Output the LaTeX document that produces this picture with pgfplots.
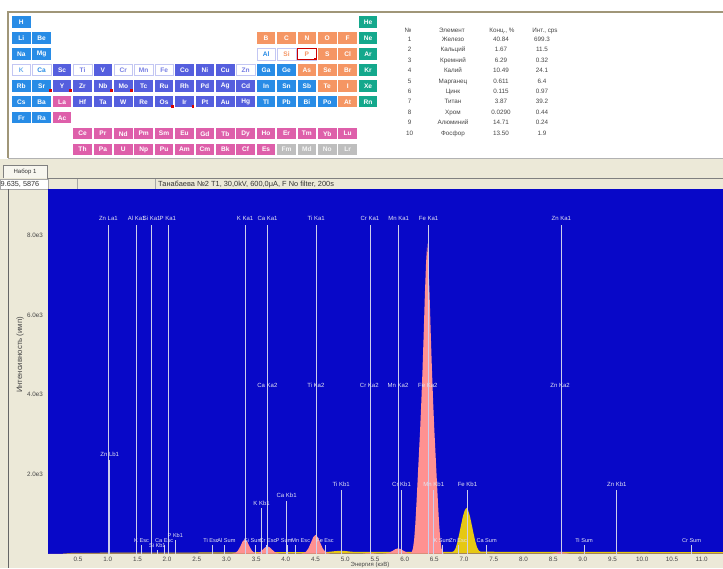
\documentclass[border=0pt]{standalone}
\usepackage{pgfplots}
\pgfplotsset{compat=1.18}
\usepackage{fontspec}
\setmainfont{Liberation Sans}
\definecolor{uibg}{RGB}{236,233,216}
\definecolor{specblue}{RGB}{8,8,200}
\definecolor{pk}{RGB}{255,145,145}
\definecolor{yl}{RGB}{230,200,20}
\definecolor{lnc}{RGB}{205,205,235}
\definecolor{labc}{RGB}{230,230,242}
\definecolor{eb}{RGB}{40,140,230}
\definecolor{tm}{RGB}{85,95,222}
\definecolor{nm}{RGB}{245,150,100}
\definecolor{ng}{RGB}{20,168,140}
\definecolor{lnt}{RGB}{222,95,170}
\definecolor{gre}{RGB}{190,190,190}
\definecolor{tx}{RGB}{70,70,70}
\definecolor{frame}{RGB}{160,150,120}
\newcommand{\fs}[1]{\fontsize{#1}{#1}\selectfont}
\tikzset{lab/.style={font=\fs{6},text=labc,inner sep=0.3pt},
         slab/.style={font=\fs{5.6},text=labc,inner sep=0.2pt}}
\newcommand{\pel}[5]{%
  \fill[#4] ({12+(#2-1)*20.4},{16.5+(#3-1)*15.9}) rectangle ++(18.6,11.5);
  \node[font=\fs{6.6}\bfseries,text=#5,inner sep=0pt] at ({12+(#2-1)*20.4+9.3},{16.5+(#3-1)*15.9+5.9}) {#1};}
\newcommand{\pelw}[3]{%
  \filldraw[fill=white,draw=#3!35,line width=0.4pt] ({12+(#1-1)*20.4},{16.5+(#2-1)*15.9}) rectangle ++(18.6,11.5);}
\newcommand{\rdot}[2]{\fill[red!85!black] ({12+(#1-1)*20.4+16.3},{16.5+(#2-1)*15.9+9.3}) rectangle ++(2.8,2.8);}
\newcommand{\lb}[3]{\node[lab] at (axis cs:#1,#2) {#3};}
\newcommand{\slb}[3]{\node[slab] at (axis cs:#1,#2) {#3};}
\begin{document}
\begin{tikzpicture}
\path[use as bounding box] (0,0) rectangle (723pt,568pt);
\begin{scope}[x=1pt,y=-1pt,yshift=568pt]
  \fill[uibg] (0,0) rectangle (723,568);
  \fill[white] (0,0) rectangle (723,159);
  \draw[frame,line width=1.2pt] (8,158) -- (8,12) -- (723,12);
  \draw[gray!60] (8,158) -- (723,158);
  % periodic table
  \foreach \s/\c/\r in {H/1/1,Li/1/2,Be/2/2,Na/1/3,Mg/2/3,Rb/1/5,Sr/2/5,Cs/1/6,Ba/2/6,Fr/1/7,Ra/2/7,Ga/13/4,Ge/14/4,In/13/5,Sn/14/5,Sb/15/5,Tl/13/6,Pb/14/6,Bi/15/6,Po/16/6}{\pel{\s}{\c}{\r}{eb}{white}}
  \foreach \s/\c/\r in {Sc/3/4,V/5/4,Co/9/4,Ni/10/4,Cu/11/4,Y/3/5,Zr/4/5,Nb/5/5,Mo/6/5,Tc/7/5,Ru/8/5,Rh/9/5,Pd/10/5,Ag/11/5,Cd/12/5,Hf/4/6,Ta/5/6,W/6/6,Re/7/6,Os/8/6,Ir/9/6,Pt/10/6,Au/11/6,Hg/12/6}{\pel{\s}{\c}{\r}{tm}{white}}
  \foreach \s/\c/\r in {B/13/2,C/14/2,N/15/2,O/16/2,F/17/2,S/16/3,Cl/17/3,As/15/4,Se/16/4,Br/17/4,Te/16/5,I/17/5,At/17/6}{\pel{\s}{\c}{\r}{nm}{white}}
  \foreach \s/\c/\r in {He/18/1,Ne/18/2,Ar/18/3,Kr/18/4,Xe/18/5,Rn/18/6}{\pel{\s}{\c}{\r}{ng}{white}}
  \foreach \s/\c/\r in {La/3/6,Ac/3/7,Ce/4/8,Pr/5/8,Nd/6/8,Pm/7/8,Sm/8/8,Eu/9/8,Gd/10/8,Tb/11/8,Dy/12/8,Ho/13/8,Er/14/8,Tm/15/8,Yb/16/8,Lu/17/8,Th/4/9,Pa/5/9,U/6/9,Np/7/9,Pu/8/9,Am/9/9,Cm/10/9,Bk/11/9,Cf/12/9,Es/13/9}{\pel{\s}{\c}{\r}{lnt}{white}}
  \foreach \s/\c/\r in {Fm/14/9,Md/15/9,No/16/9,Lr/17/9}{\pel{\s}{\c}{\r}{gre}{white!92!gray}}
  \foreach \s/\c/\r/\t in {K/1/4/eb!70,Ca/2/4/eb,Ti/4/4/tm!80,Cr/6/4/tm!80,Mn/7/4/tm!80,Fe/8/4/tm!80,Zn/12/4/tm!80,Al/13/3/eb,Si/14/3/nm,P/15/3/nm}{%
    \pelw{\c}{\r}{tm}
    \node[font=\fs{6.6}\bfseries,text=\t,inner sep=0pt] at ({12+(\c-1)*20.4+9.3},{16.5+(\r-1)*15.9+5.9}) {\s};}
  \draw[red!80!black,line width=0.8pt] ({12+14*20.4},{16.5+2*15.9}) rectangle ++(18.6,11.5);
  \rdot{2}{5}\rdot{3}{5}\rdot{5}{5}\rdot{6}{5}\rdot{8}{6}\rdot{9}{6}\rdot{15}{3}
  % results table
  \begin{scope}[every node/.style={font=\fs{6.3},text=tx,inner sep=0pt,anchor=base}]
    \node at (408,32.2) {№};
    \node at (452,32.2) {Элемент};
    \node at (502,32.2) {Конц., \%};
    \node at (545,32.2) {Инт., cps};
    \foreach \n/\e/\c/\i [count=\k] in {1/Железо/40.84/699.3,2/Кальций/1.67/11.5,3/Кремний/6.29/0.32,4/Калий/10.49/24.1,5/Марганец/0.611/6.4,6/Цинк/0.115/0.97,7/Титан/3.87/39.2,8/Хром/0.0290/0.44,9/Алюминий/14.71/0.24,10/Фосфор/13.50/1.9}{%
      \node at (409.5,{41.6+10.4*(\k-1)}) {\n};
      \node at (453,{41.6+10.4*(\k-1)}) {\e};
      \node at (501,{41.6+10.4*(\k-1)}) {\c};
      \node at (542,{41.6+10.4*(\k-1)}) {\i};}
  \end{scope}
  % tab and status bar
  \filldraw[fill=uibg!40!white,draw=gray] (3,178) -- (3,165) -- (47,165) -- (47,178);
  \node[font=\fs{6},text=black!80] at (25,171.5) {Набор 1};
  \draw[gray] (47,178) -- (723,178);
  \filldraw[fill=white,draw=gray!70] (0,179) rectangle (48,189);
  \node[font=\fs{7.3},anchor=west,inner sep=0pt,text=black!80] at (0.5,184) {9.635, 5876};
  \draw[gray!70] (77,179) -- (77,189);
  \draw[gray!70] (155,179) -- (155,189);
  \node[font=\fs{7.4},anchor=west,inner sep=0pt,text=black!80] at (158,184) {Танабаева №2 T1, 30,0kV, 600,0μA, F No filter, 200s};
  \draw[black!60,line width=0.9pt] (8,189) -- (8,568);
  \node[rotate=90,font=\fs{7.8},text=tx,inner sep=0pt] at (20,355) {Интенсивность (имп)};
  \node[font=\fs{6},text=tx,inner sep=0pt] at (370,565) {Энергия (кэВ)};
\end{scope}
\begin{axis}[
  at={(48.3pt,14.5pt)}, anchor=south west,
  width=674.7pt, height=364.5pt, scale only axis,
  xmin=0, xmax=11.36, ymin=0, ymax=9170,
  axis background/.style={fill=specblue},
  axis line style={draw=none},
  major tick length=0pt,
  /pgf/number format/assume math mode=true,
  xtick={0.5,1,1.5,2,2.5,3,3.5,4,4.5,5,5.5,6,6.5,7,7.5,8,8.5,9,9.5,10,10.5,11},
  xticklabels={0.5,1.0,1.5,2.0,2.5,3.0,3.5,4.0,4.5,5.0,5.5,6.0,6.5,7.0,7.5,8.0,8.5,9.0,9.5,10.0,10.5,11.0},
  ytick={2000,4000,6000,8000},
  yticklabels={2.0e3,4.0e3,6.0e3,8.0e3},
  tick label style={font=\fs{6.3},text=tx},
  xticklabel style={yshift=0pt},
  yticklabel style={xshift=-2pt},
]
\addplot[fill=yl,draw=none] coordinates {(0.25,0)(0.4,15)(1.0,20)(2.0,22)(3.0,28)(4.0,35)(4.6,38)(4.70,40)(4.76,48)(4.82,58)(4.88,66)(4.93,70)(4.98,66)(5.04,56)(5.10,46)(5.16,40)(5.6,40)(6.5,42)(6.80,42)(6.83,60)(6.86,140)(6.89,300)(6.92,500)(6.95,720)(6.98,930)(7.01,1080)(7.04,1150)(7.07,1080)(7.10,930)(7.13,720)(7.16,500)(7.19,300)(7.22,150)(7.25,70)(7.28,45)(8.0,42)(9.0,40)(10.0,38)(11.36,35)} \closedcycle;
\addplot[fill=pk,draw=none] coordinates {(0,0)(3.10,0)(3.15,17)(3.19,66)(3.23,169)(3.27,298)(3.31,360)(3.35,298)(3.39,169)(3.43,66)(3.47,20)(3.50,10)(3.53,15)(3.57,41)(3.61,94)(3.65,153)(3.69,180)(3.73,153)(3.77,94)(3.81,41)(3.85,13)(3.89,0)(4.26,0)(4.30,13)(4.34,48)(4.38,130)(4.42,266)(4.46,408)(4.50,470)(4.54,408)(4.58,266)(4.62,130)(4.66,48)(4.70,13)(4.74,0)(5.30,0)(5.36,10)(5.41,22)(5.46,10)(5.52,0)(5.64,0)(5.69,6)(5.74,22)(5.79,60)(5.84,107)(5.89,130)(5.94,107)(5.99,60)(6.04,22)(6.08,8)(6.10,15)(6.12,40)(6.14,130)(6.16,350)(6.18,750)(6.20,1300)(6.22,1900)(6.24,2500)(6.26,3100)(6.28,3800)(6.30,4600)(6.32,5500)(6.34,6500)(6.36,7300)(6.38,7800)(6.40,7300)(6.42,6500)(6.44,5500)(6.46,4600)(6.48,3800)(6.50,3100)(6.52,2500)(6.54,1900)(6.56,1300)(6.58,750)(6.60,350)(6.62,130)(6.64,40)(6.66,0)(8.48,0)(8.55,20)(8.62,40)(8.69,20)(8.76,0)(11.36,0)} \closedcycle;
\addplot[ycomb,lnc,line width=0.8pt,mark=none] coordinates {(1.012,8265)(1.487,8265)(1.740,8265)(2.014,8265)(3.314,8265)(3.692,8265)(4.511,8265)(5.415,8265)(5.899,8265)(6.404,8265)(8.639,8265)(1.034,2352)(3.590,1145)(4.013,1321)(4.932,1598)(5.947,1598)(6.490,1598)(7.058,1598)(9.572,1598)(1.57,214)(1.95,214)(2.77,214)(2.97,214)(3.48,214)(3.67,214)(4.03,214)(4.16,214)(4.66,214)(6.63,214)(6.90,214)(7.38,214)(9.02,214)(10.83,214)(1.836,90)(2.139,340)};
\lb{1.012}{8441}{Zn La1}\lb{1.487}{8441}{Al Ka1}\lb{1.740}{8441}{Si Ka1}\lb{2.014}{8441}{P Ka1}
\lb{3.314}{8441}{K Ka1}\lb{3.692}{8441}{Ca Ka1}\lb{4.511}{8441}{Ti Ka1}\lb{5.415}{8441}{Cr Ka1}
\lb{5.899}{8441}{Mn Ka1}\lb{6.404}{8441}{Fe Ka1}\lb{8.639}{8441}{Zn Ka1}
\lb{3.688}{4240}{Ca Ka2}\lb{4.505}{4240}{Ti Ka2}\lb{5.405}{4240}{Cr Ka2}\lb{5.888}{4240}{Mn Ka2}\lb{6.391}{4240}{Fe Ka2}\lb{8.616}{4240}{Zn Ka2}
\lb{4.932}{1749}{Ti Kb1}\lb{5.947}{1749}{Cr Kb1}\lb{6.490}{1749}{Mn Kb1}\lb{7.058}{1749}{Fe Kb1}\lb{9.572}{1749}{Zn Kb1}
\lb{1.034}{2503}{Zn Lb1}\lb{3.590}{1270}{K Kb1}\lb{4.013}{1472}{Ca Kb1}\slb{2.139}{465}{P Kb1}\slb{1.836}{200}{Si Kb1}
\slb{1.57}{315}{K Esc}\slb{1.95}{315}{Ca Esc}\slb{2.74}{315}{Ti Esc}\slb{3.00}{315}{Al Sum}\slb{3.45}{315}{Si Sum}
\slb{3.70}{315}{Cr Esc}\slb{3.97}{315}{P Sum}\slb{4.25}{315}{Mn Esc}\slb{4.66}{315}{Fe Esc}\slb{6.63}{315}{K Sum}
\slb{6.90}{315}{Zn Esc}\slb{7.38}{315}{Ca Sum}\slb{9.02}{315}{Ti Sum}\slb{10.83}{315}{Cr Sum}
\end{axis}
\end{tikzpicture}
\end{document}
